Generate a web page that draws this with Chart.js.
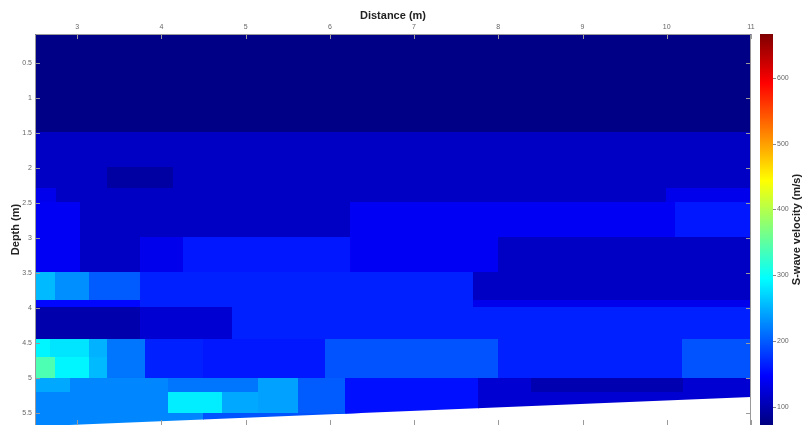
<!DOCTYPE html>
<html>
<head>
<meta charset="utf-8">
<script src="https://cdn.jsdelivr.net/npm/chart.js@4.4.1/dist/chart.umd.min.js"></script>
<style>
  html, body { margin: 0; padding: 0; background: #fff; overflow: hidden; }
  #wrap { width: 807px; height: 425px; position: relative; }
</style>
</head>
<body>
<div id="wrap"><canvas id="velocityChart"></canvas></div>
<script>
// axis ticks
var distanceTicks = [3, 4, 5, 6, 7, 8, 9, 10, 11];
var depthTicks = [0.5, 1, 1.5, 2, 2.5, 3, 3.5, 4, 4.5, 5, 5.5];
var velocityTicks = [100, 200, 300, 400, 500, 600];

// depth bands (m), top to bottom
var depthEdges = [0.09, 1.5, 2.0, 2.3, 2.5, 3.0, 3.5, 3.9, 4.0, 4.45, 4.7, 5.0, 5.2, 5.5, 5.75];

// per band: distance breaks (m) and S-wave velocity (m/s) in between
var bandBreaks = [
    [2.5, 11],
    [2.5, 11],
    [2.5, 3.36, 4.14, 11],
    [2.5, 2.75, 10.0, 11],
    [2.5, 3.04, 6.25, 10.1, 11],
    [2.5, 3.04, 3.75, 4.26, 6.25, 8.0, 11],
    [2.5, 2.74, 3.15, 3.75, 7.7, 11],
    [2.5, 3.75, 7.7, 11],
    [2.5, 3.75, 4.85, 11],
    [2.5, 2.68, 3.15, 3.36, 3.81, 4.5, 5.95, 8.0, 10.19, 11],
    [2.5, 2.74, 3.15, 3.36, 3.81, 4.5, 5.95, 8.0, 10.19, 11],
    [2.5, 2.92, 4.08, 5.15, 5.63, 6.19, 7.77, 8.39, 10.2, 11],
    [2.5, 4.08, 4.72, 5.15, 5.63, 6.19, 7.77, 11],
    [2.5, 4.5, 6.2, 11]
];
var bandVelocity = [
    [76],
    [112],
    [112, 92, 112],
    [135, 112, 135],
    [140, 112, 140, 160],
    [140, 112, 135, 160, 140, 112],
    [255, 230, 200, 165, 112],
    [150, 165, 135],
    [98, 120, 165],
    [290, 280, 250, 215, 165, 160, 195, 165, 195],
    [340, 290, 255, 215, 165, 160, 195, 165, 195],
    [245, 225, 215, 240, 200, 155, 120, 100, 120],
    [225, 285, 245, 240, 200, 155, 120],
    [225, 195, 165]
];

// lower edge of the section
var baseDistance = [2.5, 11];
var baseDepth = [5.69, 5.27];

var cbMin = 72, cbMax = 667;

function jet(v) {
    var t = (v - cbMin) / (cbMax - cbMin);
    t = Math.max(0, Math.min(1, t));
    function c(a) { return Math.round(255 * Math.max(0, Math.min(1, a))); }
    var r = c(1.5 - Math.abs(4 * t - 3));
    var g = c(1.5 - Math.abs(4 * t - 2));
    var b = c(1.5 - Math.abs(4 * t - 1));
    return 'rgb(' + r + ',' + g + ',' + b + ')';
}

// fixed axis sizes, no extra label padding
function fixSize(w, h) {
    return function(s) {
        if (w !== null) s.width = w;
        if (h !== null) s.height = h;
        s.paddingTop = 0; s.paddingBottom = 0; s.paddingLeft = 0; s.paddingRight = 0;
    };
}

var sectionPlugin = {
    id: 'velocitySection',
    afterDatasetsDraw: function(chart) {
        var ctx = chart.ctx;
        var x = chart.scales.x, y = chart.scales.y, cb = chart.scales.cb;
        var area = chart.chartArea;

        // cells
        ctx.save();
        ctx.beginPath();
        ctx.moveTo(x.getPixelForValue(baseDistance[0]), area.top);
        ctx.lineTo(x.getPixelForValue(baseDistance[1]), area.top);
        ctx.lineTo(x.getPixelForValue(baseDistance[1]), y.getPixelForValue(baseDepth[1]));
        ctx.lineTo(x.getPixelForValue(baseDistance[0]), y.getPixelForValue(baseDepth[0]));
        ctx.closePath();
        ctx.clip();
        for (var i = 0; i < bandVelocity.length; i++) {
            var y0 = Math.floor(y.getPixelForValue(depthEdges[i]));
            var y1 = Math.ceil(y.getPixelForValue(depthEdges[i + 1]));
            for (var j = 0; j < bandVelocity[i].length; j++) {
                var x0 = Math.floor(x.getPixelForValue(bandBreaks[i][j]));
                var x1 = Math.ceil(x.getPixelForValue(bandBreaks[i][j + 1]));
                ctx.fillStyle = jet(bandVelocity[i][j]);
                ctx.fillRect(x0, y0, x1 - x0, y1 - y0);
            }
        }
        ctx.restore();

        // axes box (bottom edge falls outside the window) and inward ticks
        ctx.save();
        ctx.strokeStyle = '#9a9a9a';
        ctx.lineWidth = 1;
        ctx.beginPath();
        ctx.moveTo(area.left + 0.5, area.bottom);
        ctx.lineTo(area.left + 0.5, area.top + 0.5);
        ctx.lineTo(area.right - 0.5, area.top + 0.5);
        ctx.lineTo(area.right - 0.5, area.bottom);
        distanceTicks.forEach(function(v) {
            var px = Math.round(x.getPixelForValue(v)) + 0.5;
            ctx.moveTo(px, area.top); ctx.lineTo(px, area.top + 5);
            ctx.moveTo(px, area.bottom); ctx.lineTo(px, area.bottom - 5);
        });
        depthTicks.forEach(function(v) {
            var py = Math.round(y.getPixelForValue(v)) + 0.5;
            ctx.moveTo(area.left, py); ctx.lineTo(area.left + 5, py);
            ctx.moveTo(area.right, py); ctx.lineTo(area.right - 5, py);
        });
        ctx.stroke();
        ctx.restore();

        // colour bar
        var barLeft = cb.left + 9, barWidth = 13;
        ctx.save();
        for (var py = Math.floor(cb.top); py < Math.ceil(cb.bottom); py++) {
            ctx.fillStyle = jet(cb.getValueForPixel(py + 0.5));
            ctx.fillRect(barLeft, py, barWidth, 1);
        }
        ctx.strokeStyle = '#888';
        ctx.beginPath();
        velocityTicks.forEach(function(v) {
            var py = Math.round(cb.getPixelForValue(v)) + 0.5;
            ctx.moveTo(barLeft + barWidth, py); ctx.lineTo(barLeft + barWidth + 3, py);
        });
        ctx.stroke();
        ctx.fillStyle = '#222';
        ctx.font = 'bold 11px "Liberation Sans", Arial, sans-serif';
        ctx.textAlign = 'center';
        ctx.textBaseline = 'middle';
        ctx.translate(797, (cb.top + cb.bottom) / 2);
        ctx.rotate(-Math.PI / 2);
        ctx.fillText('S-wave velocity (m/s)', 0, 0);
        ctx.restore();
    }
};

var tickFont = { family: '"Liberation Sans", Arial, sans-serif', size: 7 };
var titleFont = { family: '"Liberation Sans", Arial, sans-serif', size: 11, weight: 'bold' };

var ctxSection = document.getElementById('velocityChart').getContext('2d');
var sectionChart = new Chart(ctxSection, {
    type: 'scatter',
    data: { datasets: [{ data: [] }] },
    options: {
        responsive: true,
        maintainAspectRatio: false,
        animation: false,
        events: [],
        layout: { padding: 0, autoPadding: false },
        plugins: { legend: { display: false }, tooltip: { enabled: false } },
        scales: {
            x: {
                type: 'linear',
                position: 'top',
                min: 2.5,
                max: 11,
                afterBuildTicks: function(s) { s.ticks = distanceTicks.map(function(v) { return { value: v }; }); },
                afterFit: fixSize(null, 34),
                grid: { display: false, drawTicks: false },
                border: { display: false },
                ticks: { font: tickFont, color: '#666', padding: 3, maxRotation: 0, autoSkip: false },
                title: { display: true, text: 'Distance (m)', font: titleFont, color: '#222', padding: { top: 9, bottom: 0 } }
            },
            y: {
                type: 'linear',
                position: 'left',
                reverse: true,
                min: 0.09,
                max: 5.67,
                afterBuildTicks: function(s) { s.ticks = depthTicks.map(function(v) { return { value: v }; }); },
                afterFit: fixSize(35, null),
                grid: { display: false, drawTicks: false },
                border: { display: false },
                ticks: { font: tickFont, color: '#666', padding: 3, autoSkip: false,
                    callback: function(v) { return String(v); } },
                title: { display: true, text: 'Depth (m)', font: titleFont, color: '#222', padding: { top: 9, bottom: 0 } }
            },
            cb: {
                type: 'linear',
                position: 'right',
                min: cbMin,
                max: cbMax,
                afterBuildTicks: function(s) { s.ticks = velocityTicks.map(function(v) { return { value: v }; }); },
                afterFit: fixSize(56, null),
                grid: { display: false, drawTicks: false },
                border: { display: false },
                ticks: { font: tickFont, color: '#666', padding: 26, autoSkip: false }
            }
        }
    },
    plugins: [sectionPlugin]
});
</script>
</body>
</html>
